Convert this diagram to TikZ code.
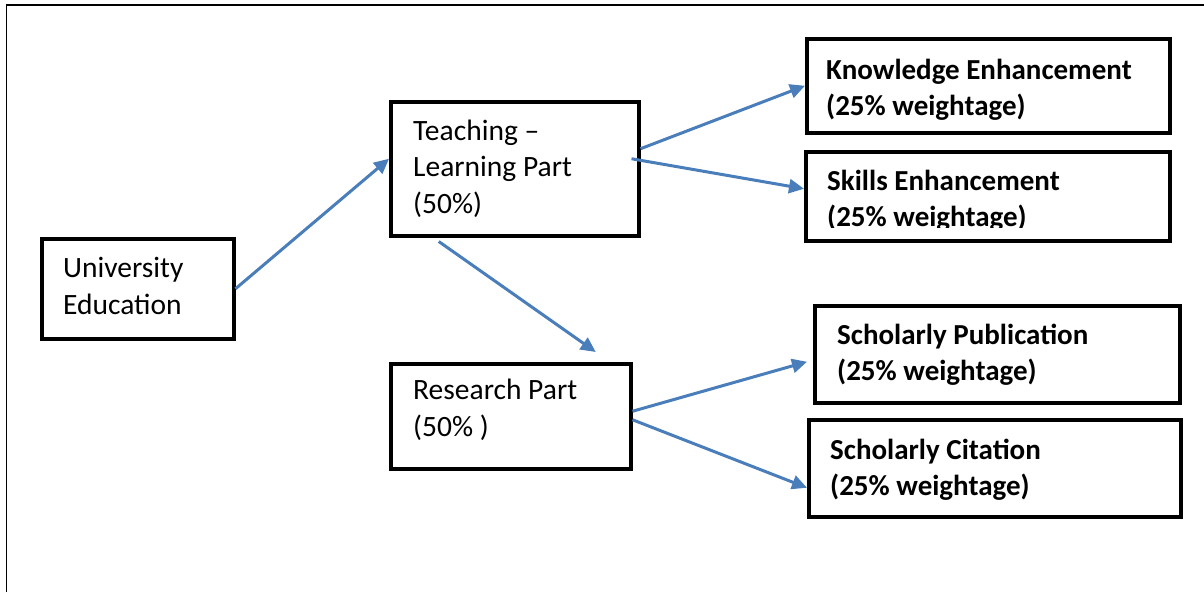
\documentclass[tikz,border=0pt]{standalone}
\usepackage{fontspec}
\setmainfont{Carlito}
\usetikzlibrary{arrows.meta}
\definecolor{arrowblue}{RGB}{74,126,187}
\tikzset{
  box/.style={draw=black, line width=3.5pt, inner sep=0pt, anchor=north west},
  txt/.style={inner sep=0pt, anchor=base west, align=left, font=\fontsize{29.5}{36.5}\selectfont},
  btxt/.style={txt, font=\fontsize{29}{36}\selectfont\bfseries},
  conn/.style={draw=arrowblue, line width=3pt, -{Triangle[length=15pt,width=14pt]}},
}
\begin{document}
\begin{tikzpicture}[x=1pt,y=-1pt]
\path[use as bounding box] (0,0) rectangle (1204,592);
\draw[line width=1.6pt] (6.5,592) -- (6.5,5) -- (1204,5);
% boxes
\node[box, minimum width=192pt, minimum height=100pt] (ue) at (40,237) {};
\node[box, minimum width=248pt, minimum height=134pt] (teach) at (389,100) {};
\node[box, minimum width=240pt, minimum height=105pt] (res) at (389,362) {};
\node[box, minimum width=363pt, minimum height=94pt] (know) at (805,37) {};
\node[box, minimum width=364pt, minimum height=89pt] (skill) at (804,150) {};
\node[box, minimum width=365pt, minimum height=97pt] (pub) at (813,304) {};
\node[box, minimum width=372pt, minimum height=97pt] (cit) at (807,418) {};
% texts (anchor = baseline of last line)
\node[txt] (uet) at (63,314) {University\\Education};
\node[txt] (teacht) at (413,213) {Teaching –\\Learning Part\\(50\%)};
\node[txt] (rest) at (413,436) {Research Part\\(50\% )};
\node[btxt] (knowt) at (826,115) {Knowledge Enhancement\\(25\% weightage)};
\begin{scope}
\clip (806,152) rectangle (1166,227);
\node[btxt] (skillt) at (827,226) {Skills Enhancement\\(25\% weightage)};
\end{scope}
\node[btxt] (pubt) at (837,380) {Scholarly Publication\\(25\% weightage)};
\node[btxt] (citt) at (830,495) {Scholarly Citation\\(25\% weightage)};
% connectors
\draw[conn] (ue.east) -- ([yshift=10pt]teach.west);
\draw[conn] ([yshift=20pt]teach.east) -- (know.west);
\draw[conn] ([xshift=-9pt,yshift=10pt]teach.east) -- ([yshift=7.5pt]skill.west);
\draw[conn] ([xshift=-76pt,yshift=-4pt]teach.south) -- ([xshift=85pt,yshift=10pt]res.north);
\draw[conn] ([yshift=5pt]res.east) -- ([xshift=-6pt,yshift=-7.5pt]pub.west);
\draw[conn] ([yshift=-3.5pt]res.east) -- ([yshift=-19.5pt]cit.west);
\end{tikzpicture}
\end{document}
